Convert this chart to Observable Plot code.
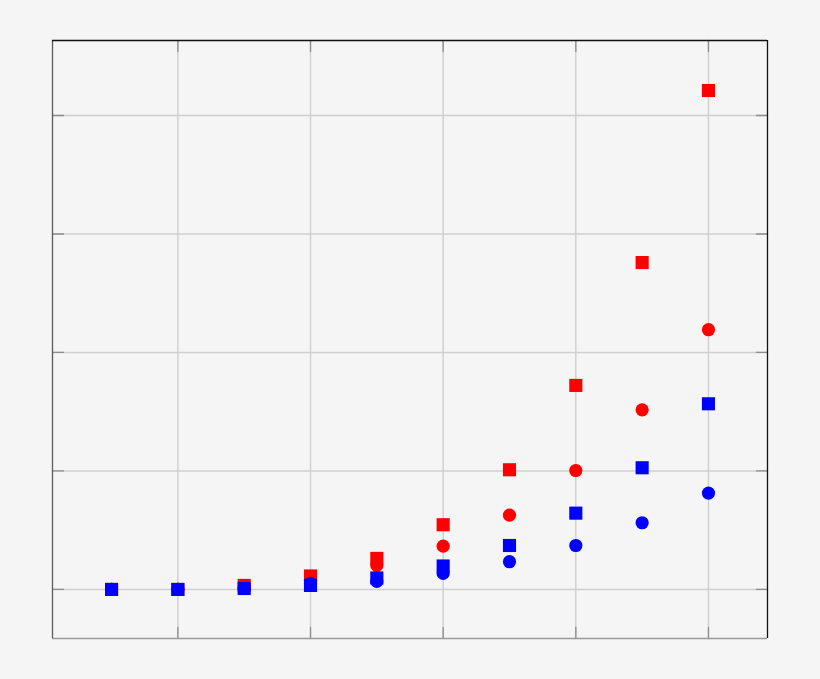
<!DOCTYPE html>
<html>
<head>
<meta charset="utf-8">
<script src="https://cdn.jsdelivr.net/npm/d3@7"></script>
<script src="https://cdn.jsdelivr.net/npm/@observablehq/plot@0.6"></script>
<style>
  html, body { margin: 0; padding: 0; background: #f5f5f5; }
  #chart svg { display: block; }
</style>
</head>
<body>
<div id="chart"></div>
<script>
// x positions (index of the measurement)
const xValues = [1, 2, 3, 4, 5, 6, 7, 8, 9, 10];
// series values (in grid units, baseline 0)
const redSquares  = [0, 0, 0.034, 0.114, 0.262, 0.546, 1.010, 1.722, 2.759, 4.211];
const redCircles  = [0, 0, 0.017, 0.076, 0.203, 0.365, 0.627, 1.004, 1.516, 2.192];
const blueSquares = [0, 0, 0.008, 0.034, 0.097, 0.198, 0.371, 0.644, 1.027, 1.567];
const blueCircles = [0, 0, 0.008, 0.051, 0.068, 0.135, 0.234, 0.371, 0.563, 0.813];
// tick positions (no labels shown)
const xTicks = [2, 4, 6, 8, 10];
const yTicks = [0, 1, 2, 3, 4];
// scale domains
const xDomain = [0.11, 10.89];
const yDomain = [-0.414, 4.633];

const toRows = (vals) => xValues.map((x, i) => ({x, y: vals[i]}));

const tickShape = {
  draw(context, l) {
    context.moveTo(0, 0);
    context.lineTo(0, -l);
  }
};

const tickColor = "#8c8c8c";
const tickLen = 11;

const chart = Plot.plot({
  width: 820,
  height: 679,
  marginLeft: 52,
  marginRight: 53,
  marginTop: 40,
  marginBottom: 41,
  style: {background: "#f5f5f5"},
  x: {domain: xDomain, axis: null},
  y: {domain: yDomain, axis: null},
  marks: [
    Plot.gridX(xTicks, {stroke: "#cfcfcf", strokeOpacity: 1, strokeWidth: 1.4}),
    Plot.gridY(yTicks, {stroke: "#cfcfcf", strokeOpacity: 1, strokeWidth: 1.4}),
    // inward tick marks on all four sides
    Plot.vector(xTicks, {x: d => d, frameAnchor: "bottom", length: tickLen, rotate: 0, anchor: "start", shape: tickShape, stroke: tickColor, strokeWidth: 1.3}),
    Plot.vector(xTicks, {x: d => d, frameAnchor: "top", length: tickLen, rotate: 180, anchor: "start", shape: tickShape, stroke: tickColor, strokeWidth: 1.3}),
    Plot.vector(yTicks, {y: d => d, frameAnchor: "left", length: tickLen, rotate: 90, anchor: "start", shape: tickShape, stroke: tickColor, strokeWidth: 1.3}),
    Plot.vector(yTicks, {y: d => d, frameAnchor: "right", length: tickLen, rotate: -90, anchor: "start", shape: tickShape, stroke: tickColor, strokeWidth: 1.3}),
    // box
    Plot.ruleY([yDomain[0]], {stroke: "#9a9a9a", strokeWidth: 1.3}),
    Plot.ruleX([xDomain[0]], {stroke: "#5a5a5a", strokeWidth: 1.3}),
    Plot.ruleY([yDomain[1]], {stroke: "#111111", strokeWidth: 1.5}),
    Plot.ruleX([xDomain[1]], {stroke: "#111111", strokeWidth: 1.3}),
    // data
    Plot.dot(toRows(redSquares),  {x: "x", y: "y", symbol: "square", r: 7.4, fill: "#ff0000", stroke: null}),
    Plot.dot(toRows(redCircles),  {x: "x", y: "y", symbol: "circle", r: 6.6, fill: "#ff0000", stroke: null}),
    Plot.dot(toRows(blueSquares), {x: "x", y: "y", symbol: "square", r: 7.4, fill: "#0000ff", stroke: null}),
    Plot.dot(toRows(blueCircles), {x: "x", y: "y", symbol: "circle", r: 6.6, fill: "#0000ff", stroke: null})
  ]
});

document.getElementById("chart").appendChild(chart);
</script>
</body>
</html>
